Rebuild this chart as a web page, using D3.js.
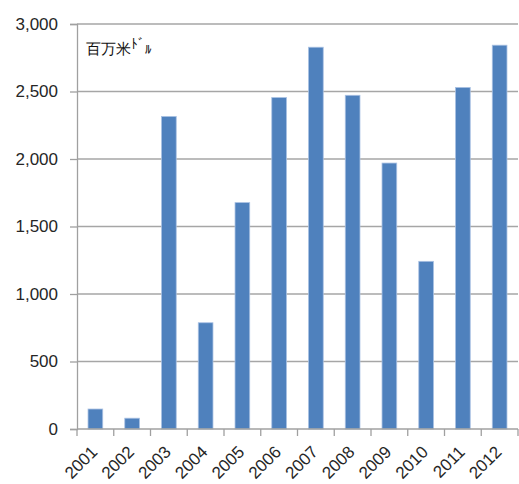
<!DOCTYPE html>
<html>
<head>
<meta charset="utf-8">
<script src="https://cdn.jsdelivr.net/npm/d3@7"></script>
<style>
  html, body { margin: 0; padding: 0; background: #fff; }
  svg { display: block; }
  text { font-family: "Liberation Sans", "DejaVu Sans", sans-serif; }
</style>
</head>
<body>
<svg id="chart" width="519" height="484"></svg>
<script>
// Annual amounts, million US dollars
const years = ["2001","2002","2003","2004","2005","2006","2007","2008","2009","2010","2011","2012"];
const amounts = [148, 80, 2315, 787, 1677, 2455, 2828, 2472, 1970, 1242, 2530, 2843];
const yTicks = [0, 500, 1000, 1500, 2000, 2500, 3000];
const unitLabel = "百万米";

const svg = d3.select("#chart");
const plotLeft = 77, plotRight = 518, plotTop = 24, plotBottom = 429;

const x = d3.scaleBand().domain(years).range([plotLeft, plotRight]).paddingInner(0.6).paddingOuter(0.3);
const xTick = d3.scaleBand().domain(years).range([plotLeft, plotRight]);
const y = d3.scaleLinear().domain([0, 3000]).range([plotBottom, plotTop]);

// horizontal gridlines
svg.append("g")
  .selectAll("line")
  .data(yTicks.filter(d => d > 0))
  .join("line")
  .attr("x1", plotLeft).attr("x2", plotRight)
  .attr("y1", d => y(d)).attr("y2", d => y(d))
  .attr("stroke", "#a6a6a6").attr("stroke-width", 1.3);

// bars
svg.append("g")
  .selectAll("rect")
  .data(years.map((yr, i) => ({ yr, v: amounts[i] })))
  .join("rect")
  .attr("x", d => x(d.yr))
  .attr("y", d => y(d.v))
  .attr("width", x.bandwidth())
  .attr("height", d => y(0) - y(d.v))
  .attr("fill", "#4f81bd")
  .attr("stroke", "#a9c1e3")
  .attr("stroke-width", 0.8);

// y axis
const yAxis = svg.append("g")
  .attr("transform", `translate(${plotLeft},0)`)
  .call(d3.axisLeft(y).tickValues(yTicks).tickFormat(d3.format(",")).tickSize(7).tickPadding(12));
yAxis.select(".domain").attr("stroke", "#a0a0a0").attr("stroke-width", 1.3);
yAxis.selectAll(".tick line").attr("stroke", "#a0a0a0").attr("stroke-width", 1.3);
yAxis.selectAll(".tick text")
  .attr("font-size", 17)
  .attr("fill", "#262626")
  .attr("font-family", "Liberation Sans, sans-serif");

// x axis
const xAxis = svg.append("g")
  .attr("transform", `translate(0,${plotBottom})`);
xAxis.append("line")
  .attr("x1", plotLeft).attr("x2", plotRight)
  .attr("stroke", "#a0a0a0").attr("stroke-width", 1.3);
xAxis.selectAll("line.tk")
  .data(years.concat(["end"]))
  .join("line")
  .attr("class", "tk")
  .attr("x1", (d, i) => plotLeft + i * xTick.bandwidth())
  .attr("x2", (d, i) => plotLeft + i * xTick.bandwidth())
  .attr("y1", 0).attr("y2", 7)
  .attr("stroke", "#a0a0a0").attr("stroke-width", 1.3);
xAxis.selectAll("text")
  .data(years)
  .join("text")
  .attr("transform", d => `translate(${x(d) + x.bandwidth() / 2 + 3},${24}) rotate(-45)`)
  .attr("text-anchor", "end")
  .attr("font-size", 17)
  .attr("fill", "#262626")
  .text(d => d);

// unit label
const unit = svg.append("text")
  .attr("x", 86).attr("y", 54)
  .attr("font-family", "Noto Sans CJK JP, sans-serif")
  .attr("font-size", 15)
  .attr("fill", "#111");
unit.append("tspan").text(unitLabel);
unit.append("tspan").attr("font-size", 13).attr("dy", -6).text("ﾄﾞ");
unit.append("tspan").attr("font-size", 13).attr("dy", 6).text("ﾙ");
</script>
</body>
</html>
